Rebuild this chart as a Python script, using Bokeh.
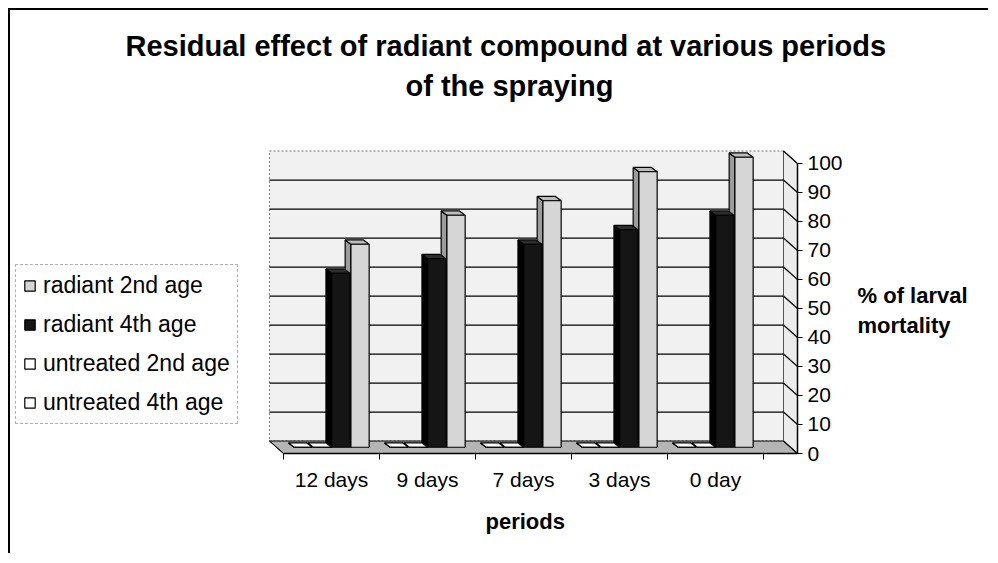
from bokeh.plotting import figure
from bokeh.models import FixedTicker, Legend, LegendItem, Title, Range1d
from bokeh.embed import file_html
from bokeh.resources import INLINE

# ---------------- data ----------------
periods = ["12 days", "9 days", "7 days", "3 days", "0 day"]
radiant_2nd = [70, 80, 85, 95, 100]
radiant_4th = [60, 65, 70, 75, 80]
untreated_2nd = [0, 0, 0, 0, 0]
untreated_4th = [0, 0, 0, 0, 0]
y_ticks = [0, 10, 20, 30, 40, 50, 60, 70, 80, 90, 100]
series_labels = ["radiant 2nd age", "radiant 4th age", "untreated 2nd age", "untreated 4th age"]
title_lines = ["Residual effect of radiant compound at various periods", "of  the spraying"]
y_label = "% of larval\nmortality"
x_label = "periods"

FONT = "Liberation Sans"

# ---------------- geometry (styling) ----------------
W, H = 980, 545
MR, MT, MB = 193, 96, 102
XS, XE = -2.844, 5.354
YE = 119.655
DXW, DYW = 0.1458, 4.3          # depth offset of back wall (data units)
BX, BB = -DXW / 2, DYW / 2      # bars sit at mid depth
DDX, DDY = 0.06, 1.5            # bar depth
BW = 0.19

p = figure(width=W, height=H, x_range=Range1d(XS, XE), y_range=Range1d(0, YE),
           output_backend="svg", toolbar_location=None, title=None,
           y_axis_location="right",
           min_border_left=0, min_border_right=MR, min_border_top=MT, min_border_bottom=MB)
p.styles = {"border-top": "2px solid black", "border-left": "2px solid black",
            "margin-left": "8px", "margin-top": "8px"}
p.outline_line_color = None
p.xgrid.visible = False
p.ygrid.visible = False
p.background_fill_color = "white"
p.border_fill_color = "white"

# ---------------- walls ----------------
n = len(periods)
top_v = y_ticks[-1]
p.quad(left=[-DXW], right=[XE - DXW], bottom=[DYW], top=[top_v + DYW],
       fill_color="#f1f1f1", line_color="#777777", line_dash="2 2", line_width=1)
p.patch([0, XE, XE - DXW, -DXW], [0, 0, DYW, DYW], fill_color="#b4b4b4",
        line_color="black", line_width=1)
p.patch([XE - DXW, XE, XE, XE - DXW], [DYW, 0, top_v, top_v + DYW],
        fill_color="#ececec", line_color="#555555", line_width=1)
inner = y_ticks[1:-1]
p.segment(x0=[-DXW] * len(inner), y0=[v + DYW for v in inner],
          x1=[XE - DXW] * len(inner), y1=[v + DYW for v in inner],
          line_color="black", line_width=1.2)
p.segment(x0=[XE - DXW] * len(y_ticks), y0=[v + DYW for v in y_ticks],
          x1=[XE] * len(y_ticks), y1=y_ticks, line_color="black", line_width=1.2)
p.segment(x0=[-DXW], y0=[DYW], x1=[0], y1=[0], line_color="black", line_width=1)

# ---------------- bars ----------------
specs = [
    (radiant_2nd, 0.37, "#d6d6d6", "#9c9c9c", "#bcbcbc"),
    (radiant_4th, 0.17, "#151515", "#000000", "#2e2e2e"),
    (untreated_4th, -0.02, "white", "white", "white"),
    (untreated_2nd, -0.22, "white", "white", "white"),
]
front = []
for vals, off, cf, cs, ct in specs:
    x0 = [i + 0.5 + off - BW / 2 + BX for i in range(n)]
    x1 = [x + BW for x in x0]
    tp = [v + BB for v in vals]
    p.patches(xs=[[a, a, a - DDX, a - DDX] for a in x0],
              ys=[[BB, t, t + DDY, BB + DDY] for t in tp],
              fill_color=cs, line_color="black", line_width=1.2)
    p.patches(xs=[[a, b, b - DDX, a - DDX] for a, b in zip(x0, x1)],
              ys=[[t, t, t + DDY, t + DDY] for t in tp],
              fill_color=ct, line_color="black", line_width=1.2)
    front.append(p.quad(left=x0, right=x1, bottom=[BB] * n, top=tp,
                        fill_color=cf, line_color="black", line_width=1.2))

legend = Legend(items=[
    LegendItem(label=series_labels[0], renderers=[front[0]]),
    LegendItem(label=series_labels[1], renderers=[front[1]]),
    LegendItem(label=series_labels[2], renderers=[front[3]]),
    LegendItem(label=series_labels[3], renderers=[front[2]]),
], location=(5, 29))
legend.label_text_font = FONT
legend.label_text_font_size = "23px"
legend.label_text_color = "black"
legend.glyph_width = 13
legend.glyph_height = 13
legend.label_standoff = 7
legend.spacing = 12
legend.padding = 7
legend.margin = 0
legend.border_line_color = "#666666"
legend.border_line_dash = "2 3"
legend.background_fill_color = "white"
legend.background_fill_alpha = 1
p.add_layout(legend)

# ---------------- axes ----------------
xa = p.xaxis[0]
xa.ticker = FixedTicker(ticks=[i + 0.5 for i in range(n)], minor_ticks=list(range(n + 1)))
xa.major_label_overrides = {i + 0.5: periods[i] for i in range(n)}
xa.major_tick_out = 0
xa.major_tick_in = 0
xa.minor_tick_out = 6
xa.minor_tick_in = 0
xa.minor_tick_line_color = "black"
xa.axis_line_color = "black"
xa.axis_line_width = 1.5
xa.bounds = (0, XE)
xa.major_label_text_font = FONT
xa.major_label_text_font_size = "21px"
xa.major_label_text_color = "black"
xa.major_label_standoff = 8

ya = p.yaxis[0]
ya.ticker = FixedTicker(ticks=y_ticks, minor_ticks=[])
ya.bounds = (0, top_v)
ya.major_tick_out = 5
ya.major_tick_in = 0
ya.major_tick_line_color = "black"
ya.axis_line_color = "black"
ya.axis_line_width = 1.5
ya.major_label_text_font = FONT
ya.major_label_text_font_size = "21px"
ya.major_label_text_color = "black"
ya.major_label_standoff = 5
# two empty leading lines lower the centred label block to the reference height
ya.axis_label = "\n\n" + y_label
ya.axis_label_text_font = FONT
ya.axis_label_text_font_size = "22px"
ya.axis_label_text_font_style = "bold"
ya.axis_label_text_color = "black"
ya.axis_label_standoff = 12
try:
    ya.axis_label_orientation = "horizontal"
except Exception:
    pass

# x-axis title placed under the categories (left aligned with an offset)
p.add_layout(Title(text=x_label, align="left", offset=475, text_font=FONT,
                   text_font_size="22px", text_font_style="bold", text_color="black",
                   standoff=26), "below")

# ---------------- chart title (two lines, nearest-to-plot first) ----------------
p.add_layout(Title(text=title_lines[1], align="left", offset=395, text_font=FONT,
                   text_font_size="29px", text_font_style="bold", text_color="black",
                   standoff=10), "above")
p.add_layout(Title(text=title_lines[0], align="left", offset=115, text_font=FONT,
                   text_font_size="29px", text_font_style="bold", text_color="black",
                   standoff=2), "above")

open("out.html", "w").write(file_html(p, INLINE))
